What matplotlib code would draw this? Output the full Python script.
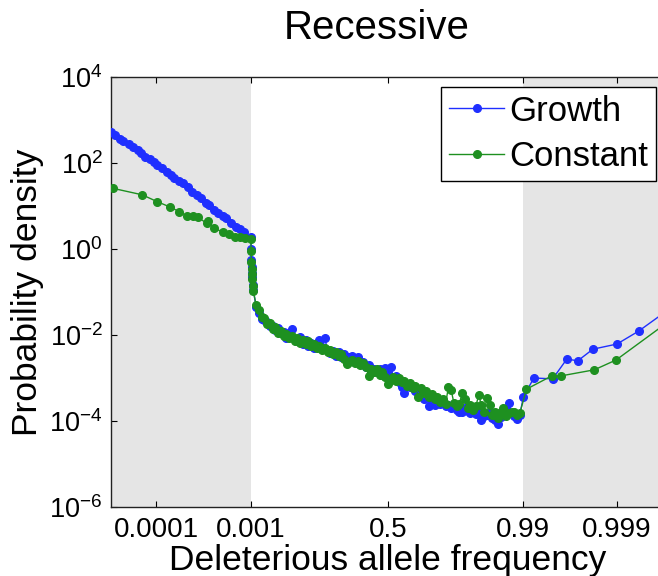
import numpy as np
import matplotlib
matplotlib.use("Agg")
import matplotlib.pyplot as plt
from matplotlib.ticker import NullLocator, FixedLocator

plt.rcParams['font.family'] = ['Liberation Sans', 'DejaVu Sans']
plt.rcParams['mathtext.fontset'] = 'custom'
plt.rcParams['mathtext.rm'] = 'Liberation Sans'
plt.rcParams['mathtext.it'] = 'Liberation Sans:italic'
plt.rcParams['mathtext.bf'] = 'Liberation Sans:bold'

# ---------------- data ----------------
title = "Recessive"
x_label = "Deleterious allele frequency"
y_label = "Probability density"
series_names = ["Growth", "Constant"]

x_tick_values = [0.0001, 0.001, 0.5, 0.99, 0.999]
x_tick_labels = ["0.0001", "0.001", "0.5", "0.99", "0.999"]
y_tick_values = [1e-6, 1e-4, 1e-2, 1e0, 1e2, 1e4]
y_tick_labels = [r"$10^{-6}$", r"$10^{-4}$", r"$10^{-2}$", r"$10^{0}$", r"$10^{2}$", r"$10^{4}$"]

# left (rare) region
growth_x_left = [3.31e-5, 3.63e-5, 4.07e-5, 4.47e-5, 5.13e-5, 5.62e-5, 6.31e-5, 6.92e-5,
                 7.59e-5, 8.51e-5, 9.33e-5, 1.02e-4, 1.15e-4, 1.29e-4, 1.41e-4, 1.55e-4,
                 1.74e-4, 1.91e-4, 2.14e-4, 2.40e-4, 2.69e-4, 2.95e-4, 3.31e-4, 3.63e-4,
                 4.07e-4, 4.47e-4, 5.01e-4, 5.50e-4, 6.17e-4, 6.92e-4, 7.76e-4, 8.51e-4, 1.0e-3]
growth_log10_left = [2.71, 2.64, 2.56, 2.50, 2.44, 2.37, 2.30, 2.23, 2.15, 2.09, 2.03, 1.95,
                     1.89, 1.80, 1.72, 1.64, 1.57, 1.53, 1.45, 1.33, 1.26, 1.18, 1.06, 1.02,
                     0.91, 0.83, 0.77, 0.71, 0.60, 0.52, 0.46, 0.40, 0.27]
constant_x_left = [3.47e-5, 7.08e-5, 1.02e-4, 1.38e-4, 1.74e-4, 2.09e-4, 2.45e-4, 2.75e-4,
                   3.39e-4, 3.55e-4, 4.07e-4, 5.01e-4, 5.89e-4, 6.76e-4, 7.76e-4, 8.71e-4, 1.0e-3]
constant_log10_left = [1.41, 1.26, 1.10, 0.98, 0.87, 0.77, 0.77, 0.74, 0.60, 0.66, 0.48,
                       0.40, 0.35, 0.29, 0.27, 0.25, 0.23]

# middle (linear) region, shared frequencies
x_mid = [0.002, 0.003, 0.004, 0.005, 0.006, 0.008,
         0.01, 0.02, 0.03, 0.04, 0.05, 0.06, 0.07, 0.08, 0.09, 0.10,
         0.11, 0.12, 0.13, 0.14, 0.15, 0.16, 0.17, 0.18, 0.19, 0.20,
         0.21, 0.22, 0.23, 0.24, 0.25, 0.26, 0.27, 0.28, 0.29, 0.30,
         0.31, 0.32, 0.33, 0.34, 0.35, 0.36, 0.37, 0.38, 0.39, 0.40,
         0.41, 0.42, 0.43, 0.44, 0.45, 0.46, 0.47, 0.48, 0.49, 0.50,
         0.51, 0.52, 0.53, 0.54, 0.55, 0.56, 0.57, 0.58, 0.59, 0.60,
         0.61, 0.62, 0.63, 0.64, 0.65, 0.66, 0.67, 0.68, 0.69, 0.70,
         0.71, 0.72, 0.73, 0.74, 0.75, 0.76, 0.77, 0.78, 0.79, 0.80,
         0.81, 0.82, 0.83, 0.84, 0.85, 0.86, 0.87, 0.88, 0.89, 0.90,
         0.91, 0.92, 0.93, 0.94, 0.95, 0.96, 0.97, 0.98]
growth_log10_mid = [0.00, -0.25, -0.42, -0.55, -0.66, -0.84,
                    -0.96, -1.34, -1.48, -1.62, -1.66, -1.70, -1.80, -1.78, -1.88, -1.84,
                    -1.96, -1.92, -2.06, -1.95, -1.86, -2.10, -2.15, -2.05, -2.20, -2.12,
                    -2.25, -2.18, -2.30, -2.22, -2.12, -2.28, -2.08, -2.34, -2.42, -2.38,
                    -2.48, -2.40, -2.52, -2.45, -2.58, -2.52, -2.50, -2.60, -2.52, -2.68,
                    -2.62, -2.74, -2.70, -2.85, -2.78, -2.86, -2.80, -2.92, -2.76, -2.88,
                    -2.74, -3.02, -2.96, -3.10, -3.20, -3.35, -3.15, -3.22, -3.18, -3.30,
                    -3.25, -3.38, -3.48, -3.40, -3.66, -3.55, -3.62, -3.50, -3.60, -3.56,
                    -3.66, -3.62, -3.70, -3.62, -3.74, -3.79, -3.80, -3.70, -3.76, -3.82,
                    -3.72, -3.84, -3.78, -3.98, -3.88, -3.85, -3.80, -3.92, -3.98, -4.07,
                    -3.90, -3.79, -3.72, -3.58, -3.82, -3.88, -3.95, -3.85]
constant_log10_mid = [-0.05, -0.30, -0.47, -0.58, -0.70, -0.85,
                      -0.98, -1.30, -1.42, -1.58, -1.60, -1.74, -1.72, -1.85, -1.82, -1.95,
                      -1.90, -2.02, -1.98, -2.08, -2.02, -2.14, -2.08, -2.18, -2.12, -2.22,
                      -2.15, -2.26, -2.20, -2.30, -2.25, -2.36, -2.30, -2.40, -2.35, -2.44,
                      -2.40, -2.50, -2.45, -2.55, -2.68, -2.62, -2.58, -2.66, -2.60, -2.70,
                      -2.64, -2.75, -2.95, -2.80, -2.86, -2.78, -2.92, -2.85, -2.98, -3.15,
                      -3.04, -2.98, -3.08, -3.00, -3.10, -3.06, -3.18, -3.12, -3.24, -3.18,
                      -3.44, -3.24, -3.36, -3.30, -3.45, -3.38, -3.50, -3.44, -3.56, -3.50,
                      -3.60, -3.21, -3.28, -3.58, -3.66, -3.60, -3.35, -3.48, -3.70, -3.62,
                      -3.75, -3.66, -3.40, -3.62, -3.80, -3.47, -3.63, -3.86, -3.78, -3.92,
                      -3.80, -3.70, -3.88, -3.82, -3.78, -3.80, -3.86, -3.82]

# right (nearly fixed) region
growth_x_right = [0.9902, 0.9924, 0.9952, 0.9966, 0.9974, 0.9982, 0.999, 0.99941, 0.99968]
growth_log10_right = [-3.44, -3.00, -3.02, -2.56, -2.60, -2.33, -2.21, -1.91, -1.49]
constant_x_right = [0.9909, 0.9951, 0.9961, 0.99826, 0.99898, 0.99968]
constant_log10_right = [-3.26, -2.95, -2.95, -2.81, -2.58, -1.77]

# ---------------- piecewise x scale ----------------
MID_W = 2.878  # width of the linear part, in decades of the log parts


def fwd(x):
    x = np.asarray(x, dtype=float)
    lo = np.log10(np.clip(x, 1e-12, None)) + 3.0
    mid = (x - 0.001) / 0.989 * MID_W
    hi = MID_W + (-np.log10(np.clip(1.0 - x, 1e-12, None)) - 2.0)
    return np.where(x <= 0.001, lo, np.where(x <= 0.99, mid, hi))


def inv(u):
    u = np.asarray(u, dtype=float)
    lo = 10.0 ** (np.minimum(u, 0.0) - 3.0)
    mid = 0.001 + u / MID_W * 0.989
    hi = 1.0 - 10.0 ** (-(np.maximum(u, MID_W) - MID_W + 2.0))
    return np.where(u <= 0, lo, np.where(u <= MID_W, mid, hi))


growth_x = growth_x_left + x_mid + growth_x_right
growth_y = 10.0 ** np.array(growth_log10_left + growth_log10_mid + growth_log10_right)
constant_x = constant_x_left + x_mid + constant_x_right
constant_y = 10.0 ** np.array(constant_log10_left + constant_log10_mid + constant_log10_right)

fig = plt.figure(figsize=(6.58, 5.76), dpi=100)
ax = fig.add_axes([111 / 658, (576 - 507) / 576, 552.7 / 658, 430 / 576])
ax.set_xscale('function', functions=(fwd, inv))
ax.set_yscale('log')
xmin, xmax = 3.3e-5, 0.99968
ax.set_xlim(xmin, xmax)
ax.set_ylim(1e-6, 1e4)

gray = '#e5e5e5'
ax.axvspan(xmin, 0.001, color=gray, lw=0, zorder=0)
ax.axvspan(0.99, xmax, color=gray, lw=0, zorder=0)

blue = '#1f2fff'
green = '#1e9020'
ax.plot(growth_x, growth_y, '-o', color=blue, lw=1.0, ms=5.5, mec=blue, mfc=blue,
        label=series_names[0], zorder=3, clip_on=True)
ax.plot(constant_x, constant_y, '-o', color=green, lw=1.0, ms=5.5, mec=green, mfc=green,
        label=series_names[1], zorder=4, clip_on=True)

ax.xaxis.set_major_locator(FixedLocator(x_tick_values))
ax.set_xticklabels(x_tick_labels)
ax.xaxis.set_minor_locator(NullLocator())
ax.set_yticks(y_tick_values)
ax.set_yticklabels(y_tick_labels)
ax.yaxis.set_minor_locator(NullLocator())
ax.tick_params(axis='both', direction='in', length=4, width=0.8, top=True, right=True,
               colors='black')
ax.tick_params(axis='x', pad=7, labelsize=20)
ax.tick_params(axis='y', pad=6, labelsize=19.5)
for s in ax.spines.values():
    s.set_linewidth(1.0)
    s.set_color('#222222')

ax.set_xlabel(x_label, fontsize=25.5, labelpad=1)
ax.set_ylabel(y_label, fontsize=25.5, labelpad=4)
fig.text(377 / 658, 1 - 28 / 576, title, ha='center', va='center', fontsize=29)

leg = ax.legend(loc='upper right', bbox_to_anchor=(656 / 658, 1 - 87 / 576),
                bbox_transform=fig.transFigure, fontsize=25, frameon=True, fancybox=False,
                framealpha=1.0, edgecolor='black', handlelength=1.6, handletextpad=0.15,
                borderpad=0.22, labelspacing=0.36, borderaxespad=0)
leg.get_frame().set_linewidth(1.0)

fig.savefig('out.png', dpi=100)
